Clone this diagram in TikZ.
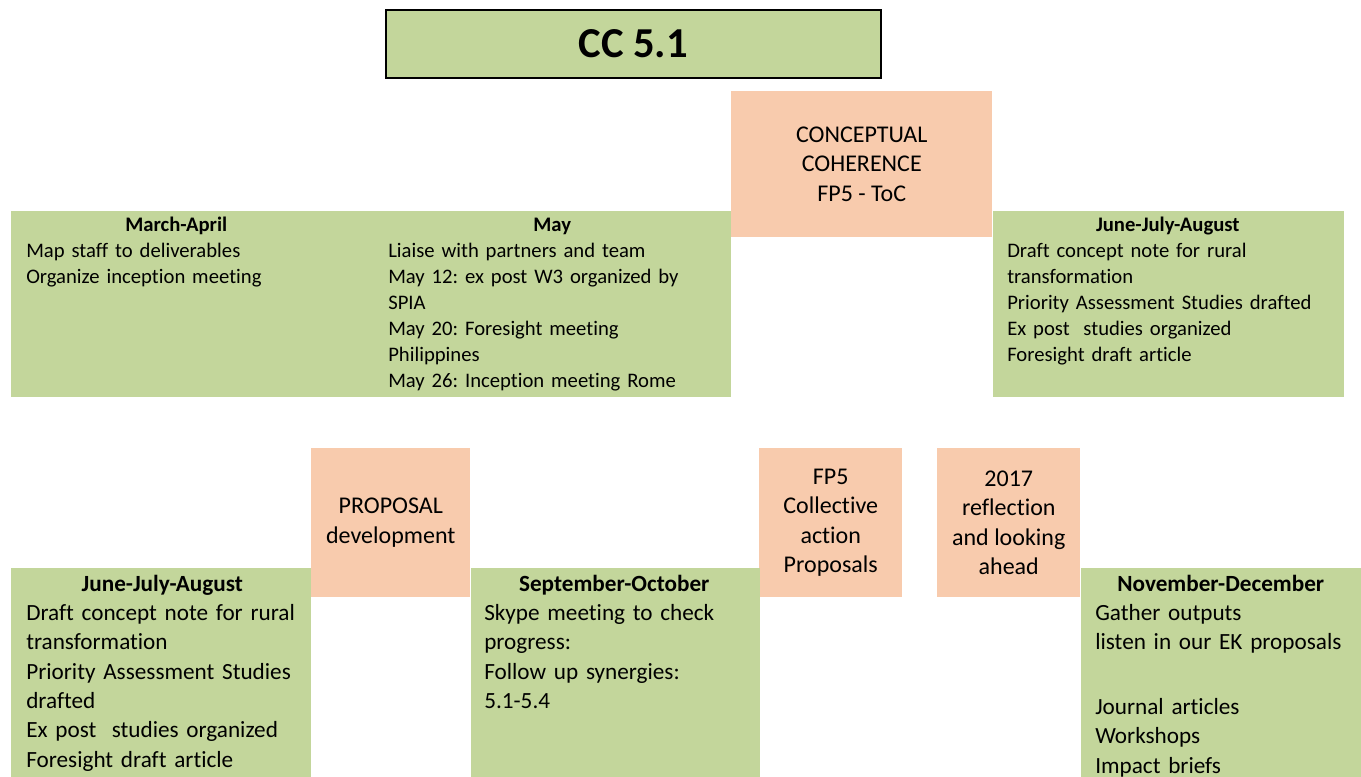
\documentclass[tikz,border=0pt]{standalone}
\usepackage{fontspec}
\setmainfont{Carlito}[Ligatures=CommonOff]
\usepackage{xcolor}
\usepackage{tikz}
\usetikzlibrary{positioning}
\definecolor{olive}{HTML}{C3D69B}
\definecolor{peach}{HTML}{F8CBAD}
\newdimen\pxu \pxu=0.75pt
\newcommand{\stagehead}[1]{\makebox[\linewidth]{\bfseries #1}}
\frenchspacing
\hyphenpenalty=10000
\tikzset{
  greenbox/.style={fill=olive, anchor=north west, inner sep=0pt},
  peachbox/.style={
    fill=peach, anchor=north west, inner sep=0pt,
    align=center, font=\fontsize{18}{22}\selectfont,
  },
  smalltext/.style={anchor=base west, align=left, inner sep=0pt,
    font=\fontsize{15.5}{19.5}\selectfont},
  bigtext/.style={anchor=base west, align=left, inner sep=0pt,
    font=\fontsize{17.4}{22}\selectfont},
}

\begin{document}
\begin{tikzpicture}[x=0.75pt, y=-0.75pt]

  \useasboundingbox (0,0) rectangle (1361,777);
  \clip (0,0) rectangle (1361,777);

  % title
  \node[fill=olive, draw=black, line width=1.2pt, anchor=north west,
        minimum width=495\pxu, minimum height=68\pxu,
        font=\fontsize{32}{36}\selectfont\bfseries] (title) at (385,9) {CC 5.1};

  % first row
  \node[peachbox, minimum width=261\pxu, minimum height=146\pxu] (concept) at (731,91)
    {CONCEPTUAL\\COHERENCE\\FP5 - ToC};

  \node[greenbox, minimum width=332\pxu, minimum height=186\pxu] (marbox) at (11,211) {};
  \node[greenbox, minimum width=390\pxu, minimum height=186\pxu] (maybox) at (341,211) {};
  \node[greenbox, minimum width=351\pxu, minimum height=186\pxu] (junbox) at (concept.north east |- marbox.north) {};

  \node[smalltext, text width=300\pxu] (martext) at (26,232)
    {\stagehead{March-April}\\
     Map staff to deliverables\\
     Organize inception meeting};
  \node[smalltext, text width=328\pxu] (maytext) at (388,232)
    {\stagehead{May}\\
     Liaise with partners and team\\
     May 12: ex post W3 organized by\\
     SPIA\\
     May 20: Foresight meeting\\
     Philippines\\
     May 26: Inception meeting Rome};
  \node[smalltext, text width=321\pxu] (juntext) at (1007,232)
    {\stagehead{June-July-August}\\
     Draft concept note for rural\\
     transformation\\
     Priority Assessment Studies drafted\\
     Ex post~ studies organized\\
     Foresight draft article};

  % second row
  \node[peachbox, minimum width=159\pxu, minimum height=149\pxu] (proposal) at (311,448)
    {PROPOSAL\\development};
  \node[peachbox, minimum width=143\pxu, minimum height=149\pxu] (fpfive) at (759,448)
    {FP5\\Collective\\action\\Proposals};
  \node[peachbox, minimum width=143\pxu, minimum height=149\pxu] (reflect) at (937,448)
    {2017\\reflection\\and looking\\ahead};

  \node[greenbox, minimum width=300\pxu, minimum height=240\pxu] (sumbox) at (11,568) {};
  \node[greenbox, minimum width=289\pxu, minimum height=240\pxu] (sepbox) at (proposal.north east |- sumbox.north) {};
  \node[greenbox, minimum width=300\pxu, minimum height=240\pxu] (novbox) at (reflect.north east |- sumbox.north) {};

  \node[bigtext, text width=272\pxu] (sumtext) at (26,591)
    {\stagehead{June-July-August}\\
     Draft concept note for rural\\
     transformation\\
     Priority Assessment Studies\\
     drafted\\
     Ex post~ studies organized\\
     Foresight draft article};
  \node[bigtext, text width=260\pxu] (septext) at (484,591)
    {\stagehead{September-October}\\
     Skype meeting to check\\
     progress:\\
     Follow up synergies:\\
     5.1-5.4};
  \node[bigtext, text width=251\pxu] (novtext) at (1095,591)
    {\stagehead{November-December}\\
     Gather outputs\\
     listen in our EK proposals\\[26.5pt]
     Journal articles\\
     Workshops\\
     Impact briefs};

\end{tikzpicture}
\end{document}
